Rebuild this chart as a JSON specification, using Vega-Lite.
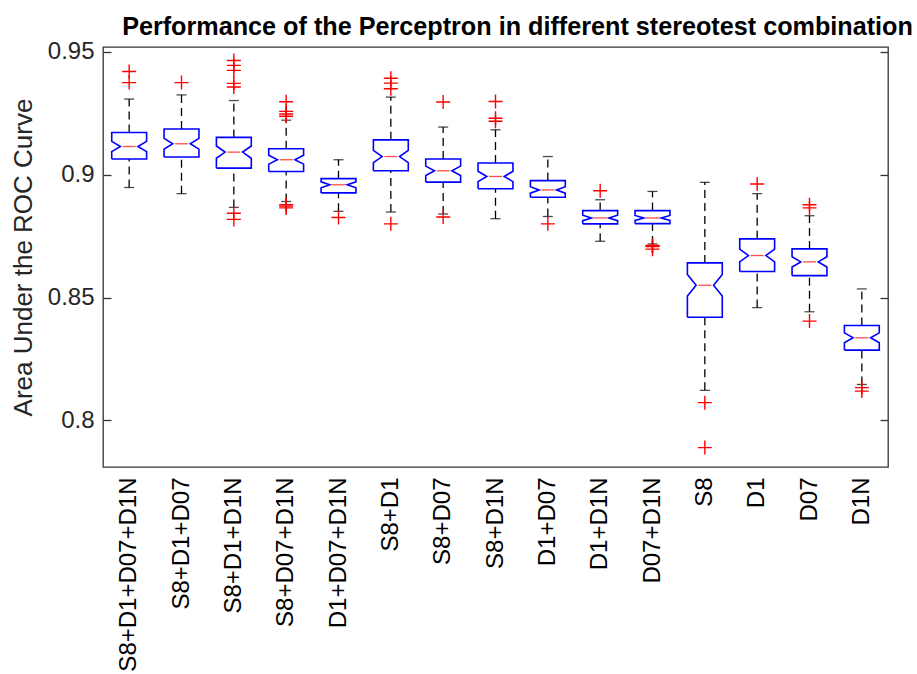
{
  "$schema": "https://vega.github.io/schema/vega-lite/v6.json",
  "width": 785,
  "height": 420,
  "autosize": "none",
  "padding": {"left": 103, "top": 47, "right": 29, "bottom": 207},
  "background": "white",
  "view": {"stroke": "#333333", "strokeWidth": 1.3},
  "config": {"font": "Liberation Sans"},
  "title": {
    "text": "Performance of the Perceptron in different stereotest combination",
    "fontSize": 25.2,
    "fontWeight": "bold",
    "font": "Liberation Sans",
    "color": "#000000",
    "anchor": "middle",
    "dx": 22,
    "offset": 0
  },
  "datasets": {
    "boxes": [
      {"cat": "S8+D1+D07+D1N", "lo": 0.8948, "q1": 0.9064, "nlo": 0.9094, "med": 0.9115, "nhi": 0.9136, "q3": 0.9172, "hi": 0.9308},
      {"cat": "S8+D1+D07", "lo": 0.8923, "q1": 0.9072, "nlo": 0.9104, "med": 0.9126, "nhi": 0.9148, "q3": 0.9186, "hi": 0.9325},
      {"cat": "S8+D1+D1N", "lo": 0.8867, "q1": 0.9027, "nlo": 0.9067, "med": 0.9092, "nhi": 0.9117, "q3": 0.9152, "hi": 0.9302},
      {"cat": "S8+D07+D1N", "lo": 0.8891, "q1": 0.9013, "nlo": 0.9043, "med": 0.9061, "nhi": 0.9079, "q3": 0.9106, "hi": 0.9222},
      {"cat": "D1+D07+D1N", "lo": 0.8851, "q1": 0.8926, "nlo": 0.8947, "med": 0.8959, "nhi": 0.8971, "q3": 0.8984, "hi": 0.9061},
      {"cat": "S8+D1", "lo": 0.8848, "q1": 0.9016, "nlo": 0.9049, "med": 0.9074, "nhi": 0.9099, "q3": 0.9142, "hi": 0.9316},
      {"cat": "S8+D07", "lo": 0.884, "q1": 0.897, "nlo": 0.8997, "med": 0.9016, "nhi": 0.9035, "q3": 0.9064, "hi": 0.9194},
      {"cat": "S8+D1N", "lo": 0.8821, "q1": 0.8943, "nlo": 0.8972, "med": 0.8993, "nhi": 0.9014, "q3": 0.9048, "hi": 0.9183},
      {"cat": "D1+D07", "lo": 0.883, "q1": 0.8908, "nlo": 0.8925, "med": 0.8938, "nhi": 0.8951, "q3": 0.8976, "hi": 0.9074},
      {"cat": "D1+D1N", "lo": 0.8729, "q1": 0.88, "nlo": 0.8813, "med": 0.8824, "nhi": 0.8835, "q3": 0.8854, "hi": 0.8898},
      {"cat": "D07+D1N", "lo": 0.8718, "q1": 0.8801, "nlo": 0.8814, "med": 0.8824, "nhi": 0.8834, "q3": 0.8854, "hi": 0.8932},
      {"cat": "S8", "lo": 0.8122, "q1": 0.842, "nlo": 0.8506, "med": 0.855, "nhi": 0.8594, "q3": 0.8641, "hi": 0.8969},
      {"cat": "D1", "lo": 0.8459, "q1": 0.8606, "nlo": 0.8645, "med": 0.8671, "nhi": 0.8697, "q3": 0.8739, "hi": 0.8923},
      {"cat": "D07", "lo": 0.8442, "q1": 0.8589, "nlo": 0.8624, "med": 0.8645, "nhi": 0.8666, "q3": 0.8698, "hi": 0.8833},
      {"cat": "D1N", "lo": 0.8146, "q1": 0.8286, "nlo": 0.8316, "med": 0.8336, "nhi": 0.8356, "q3": 0.8386, "hi": 0.8535}
    ],
    "outliers": [
      {"cat": "S8+D1+D07+D1N", "v": 0.942},
      {"cat": "S8+D1+D07+D1N", "v": 0.9375},
      {"cat": "S8+D1+D07", "v": 0.9375},
      {"cat": "S8+D1+D1N", "v": 0.9465},
      {"cat": "S8+D1+D1N", "v": 0.9445},
      {"cat": "S8+D1+D1N", "v": 0.9425},
      {"cat": "S8+D1+D1N", "v": 0.9372},
      {"cat": "S8+D1+D1N", "v": 0.9357},
      {"cat": "S8+D1+D1N", "v": 0.8843},
      {"cat": "S8+D1+D1N", "v": 0.8818},
      {"cat": "S8+D07+D1N", "v": 0.9297},
      {"cat": "S8+D07+D1N", "v": 0.9258},
      {"cat": "S8+D07+D1N", "v": 0.9247},
      {"cat": "S8+D07+D1N", "v": 0.9238},
      {"cat": "S8+D07+D1N", "v": 0.8878},
      {"cat": "S8+D07+D1N", "v": 0.8872},
      {"cat": "S8+D07+D1N", "v": 0.8865},
      {"cat": "D1+D07+D1N", "v": 0.8826},
      {"cat": "S8+D1", "v": 0.9393},
      {"cat": "S8+D1", "v": 0.9373},
      {"cat": "S8+D1", "v": 0.935},
      {"cat": "S8+D1", "v": 0.88},
      {"cat": "S8+D07", "v": 0.9296},
      {"cat": "S8+D07", "v": 0.8828},
      {"cat": "S8+D1N", "v": 0.9298},
      {"cat": "S8+D1N", "v": 0.923},
      {"cat": "S8+D1N", "v": 0.9218},
      {"cat": "D1+D07", "v": 0.88},
      {"cat": "D1+D1N", "v": 0.8935},
      {"cat": "D07+D1N", "v": 0.8712},
      {"cat": "D07+D1N", "v": 0.871},
      {"cat": "D07+D1N", "v": 0.8708},
      {"cat": "D07+D1N", "v": 0.8697},
      {"cat": "S8", "v": 0.8072},
      {"cat": "S8", "v": 0.7889},
      {"cat": "D1", "v": 0.8962},
      {"cat": "D07", "v": 0.8878},
      {"cat": "D07", "v": 0.8865},
      {"cat": "D07", "v": 0.8404},
      {"cat": "D1N", "v": 0.8133},
      {"cat": "D1N", "v": 0.8119}
    ]
  },
  "encoding": {
    "x": {
      "field": "cat",
      "type": "nominal",
      "sort": ["S8+D1+D07+D1N", "S8+D1+D07", "S8+D1+D1N", "S8+D07+D1N", "D1+D07+D1N", "S8+D1", "S8+D07", "S8+D1N", "D1+D07", "D1+D1N", "D07+D1N", "S8", "D1", "D07", "D1N"],
      "scale": {"paddingInner": 0, "paddingOuter": 0},
      "axis": {
        "title": null,
        "labelAngle": 270,
        "labelFontSize": 24,
        "labelColor": "#000000",
        "labelPadding": 10,
        "labelLimit": 0,
        "ticks": false,
        "domain": false,
        "labelFont": "Liberation Sans"
      }
    }
  },
  "resolve": {"axis": {"y": "independent"}},
  "layer": [
    {
      "data": {"name": "boxes"},
      "mark": {"type": "rule", "color": "#000000", "strokeWidth": 1.3, "strokeDash": [8, 5]},
      "encoding": {
        "y": {
          "field": "q3",
          "type": "quantitative",
          "scale": {"domain": [0.781, 0.952], "nice": false, "zero": false},
          "axis": {
            "orient": "left",
            "values": [0.8, 0.85, 0.9, 0.95],
            "format": ".2~f",
            "grid": false,
            "domain": false,
            "tickSize": -8,
            "tickColor": "#333333",
            "tickWidth": 1.3,
            "labelFontSize": 24,
            "labelColor": "#262626",
            "labelPadding": 17,
            "labelFont": "Liberation Sans",
            "title": "Area Under the ROC Curve",
            "titleFontSize": 26,
            "titleFontWeight": "normal",
            "titleColor": "#262626",
            "titleFont": "Liberation Sans",
            "titlePadding": 11
          }
        },
        "y2": {"field": "hi"}
      }
    },
    {
      "data": {"name": "boxes"},
      "mark": {"type": "rule", "color": "#000000", "strokeWidth": 1.3, "strokeDash": [8, 5]},
      "encoding": {
        "y": {
          "field": "lo",
          "type": "quantitative",
          "axis": {
            "orient": "right",
            "values": [0.8, 0.85, 0.9, 0.95],
            "labels": false,
            "grid": false,
            "domain": false,
            "tickSize": -8,
            "tickColor": "#333333",
            "tickWidth": 1.3,
            "title": null
          }
        },
        "y2": {"field": "q1"}
      }
    },
    {
      "data": {"name": "boxes"},
      "mark": {"type": "tick", "color": "#000000", "size": 10, "thickness": 1.3},
      "encoding": {"y": {"field": "hi", "type": "quantitative", "axis": null}}
    },
    {
      "data": {"name": "boxes"},
      "mark": {"type": "tick", "color": "#000000", "size": 10, "thickness": 1.3},
      "encoding": {"y": {"field": "lo", "type": "quantitative", "axis": null}}
    },
    {
      "data": {"name": "boxes"},
      "transform": [
        {"calculate": "[{o:0,s:'L',v:datum.q1},{o:1,s:'R',v:datum.q1},{o:2,s:'R',v:datum.nlo},{o:3,s:'r',v:datum.med},{o:4,s:'R',v:datum.nhi},{o:5,s:'R',v:datum.q3},{o:6,s:'L',v:datum.q3},{o:7,s:'L',v:datum.nhi},{o:8,s:'l',v:datum.med},{o:9,s:'L',v:datum.nlo},{o:10,s:'L',v:datum.q1}]", "as": "pts"},
        {"flatten": ["pts"], "as": ["p"]},
        {"calculate": "datum.p.o", "as": "o"},
        {"calculate": "datum.p.s", "as": "s"},
        {"calculate": "datum.p.v", "as": "v"}
      ],
      "mark": {"type": "line", "color": "#0000ff", "strokeWidth": 1.6, "strokeJoin": "miter"},
      "encoding": {
        "xOffset": {"field": "s", "type": "nominal", "scale": {"type": "point", "domain": ["L", "l", "c", "r", "R"], "padding": 2}},
        "y": {"field": "v", "type": "quantitative", "axis": null},
        "order": {"field": "o", "type": "quantitative"},
        "detail": {"field": "cat"}
      }
    },
    {
      "data": {"name": "boxes"},
      "mark": {"type": "tick", "color": "#ff0000", "size": 13, "thickness": 1.3},
      "encoding": {"y": {"field": "med", "type": "quantitative", "axis": null}}
    },
    {
      "data": {"name": "outliers"},
      "mark": {"type": "point", "shape": "M-1,0H1M0,-1V1", "size": 196, "filled": false, "color": "#ff0000", "strokeWidth": 1.4, "opacity": 1},
      "encoding": {"y": {"field": "v", "type": "quantitative", "axis": null}}
    }
  ]
}
